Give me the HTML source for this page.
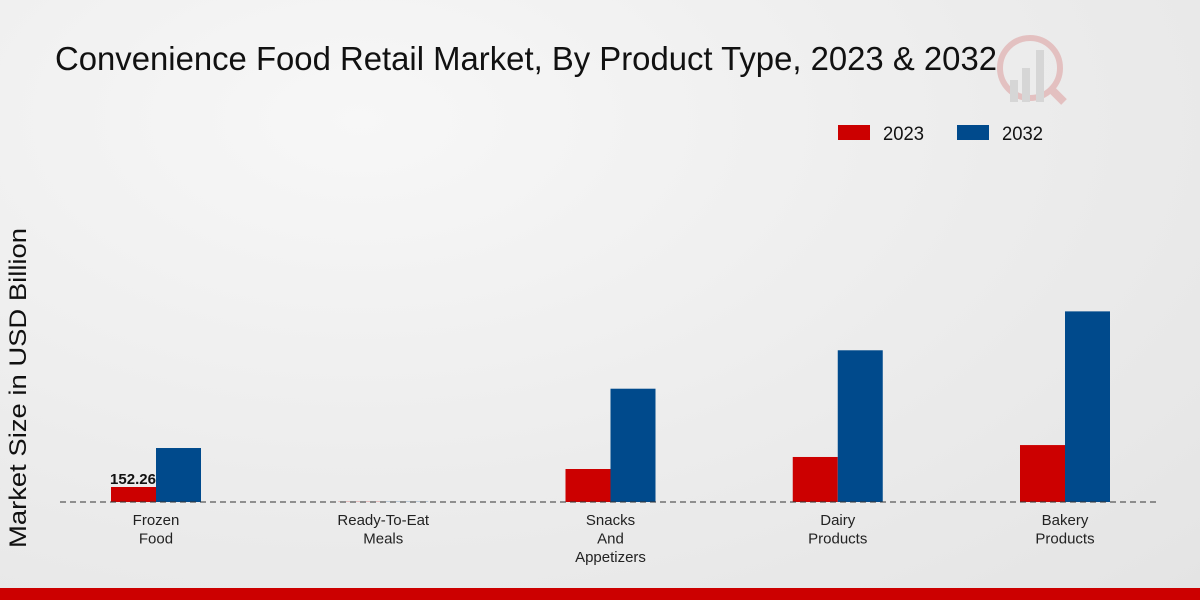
<!DOCTYPE html>
<html><head><meta charset="utf-8"><style>
html,body{margin:0;padding:0;width:1200px;height:600px;overflow:hidden;}
body{background:radial-gradient(ellipse at 30% 20%,#f7f7f7 0%,#ececec 55%,#e4e4e4 100%);font-family:"Liberation Sans",sans-serif;}
</style></head><body>
<svg width="1200" height="600">
<text x="55" y="70" font-size="33" fill="#111" textLength="942" lengthAdjust="spacingAndGlyphs">Convenience Food Retail Market, By Product Type, 2023 &amp; 2032</text>
<g opacity="0.25">
<circle cx="1030" cy="68" r="30" fill="none" stroke="#c44" stroke-width="6"/>
<rect x="1010" y="80" width="8" height="22" fill="#999"/><rect x="1022" y="68" width="8" height="34" fill="#999"/><rect x="1036" y="50" width="8" height="52" fill="#999"/>
<line x1="1052" y1="90" x2="1064" y2="102" stroke="#c44" stroke-width="8"/>
</g>
<g>
<rect x="838" y="125" width="32" height="15" fill="#cc0000"/>
<text x="883" y="140" font-size="19" fill="#111" textLength="41" lengthAdjust="spacingAndGlyphs">2023</text>
<rect x="957" y="125" width="32" height="15" fill="#004a8c"/>
<text x="1002" y="140" font-size="19" fill="#111" textLength="41" lengthAdjust="spacingAndGlyphs">2032</text>
</g>
<text transform="translate(26,388) rotate(-90)" text-anchor="middle" font-size="24" fill="#111" textLength="320" lengthAdjust="spacingAndGlyphs">Market Size in USD Billion</text>
<g id="bars"></g>
<line x1="60" y1="502" x2="1160" y2="502" stroke="#333" stroke-dasharray="6,4"/>
<g id="labels"></g>
<rect x="0" y="588" width="1200" height="12" fill="#cc0000"/>
</svg>
<script>
const categories=[["Frozen","Food"],["Ready-To-Eat","Meals"],["Snacks","And","Appetizers"],["Dairy","Products"],["Bakery","Products"]];
const values2023=[152.26,2,335,457,578];
const values2032=[548,2,1150,1540,1935];
const valueLabels=["152.26","","","",""];
const ns="http://www.w3.org/2000/svg";
const base=502, pxPer=15/152.26;
const yScale=v=>v*pxPer;
const xCenter=i=>156+i*227.25;
const bw=45;
const bars=document.getElementById('bars'), labels=document.getElementById('labels');
function mk(t,a){const e=document.createElementNS(ns,t);for(const k in a)e.setAttribute(k,a[k]);return e;}
categories.forEach((c,i)=>{
 const cx=xCenter(i);
 const h1=yScale(values2023[i]), h2=yScale(values2032[i]);
 const r1=mk('rect',{x:cx-bw,y:base-h1,width:bw,height:h1,fill:'#cc0000'});
 
 
 bars.appendChild(r1);
 const r2=mk('rect',{x:cx,y:base-h2,width:bw,height:h2,fill:'#004a8c'});
 
 
 bars.appendChild(r2);
 if(valueLabels[i]){
  const t=mk('text',{x:cx-23,y:base-h1-3,'text-anchor':'middle','font-size':15,'font-weight':'bold',fill:'#111'});
  
  
  t.textContent=valueLabels[i];labels.appendChild(t);
 }
 c.forEach((line,j)=>{
  const t=mk('text',{x:cx,y:525+j*18.5,'text-anchor':'middle','font-size':15,fill:'#222'});
  
  
  t.textContent=line;labels.appendChild(t);
 });
});
</script>
</body></html>
